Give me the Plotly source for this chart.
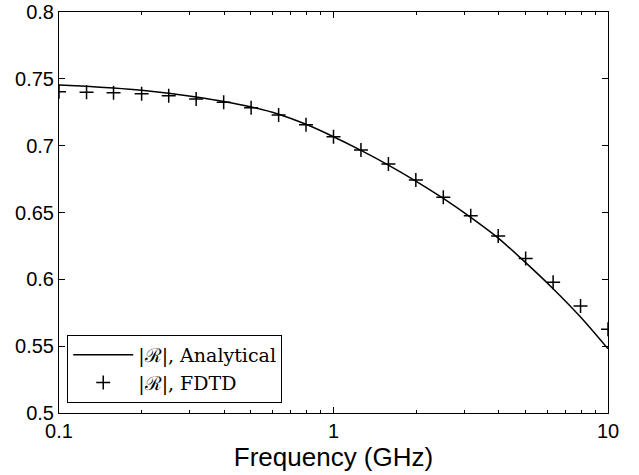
import plotly.graph_objects as go

# Frequencies (GHz)
freq = [0.1, 0.126, 0.158, 0.2, 0.251, 0.316, 0.398, 0.501, 0.631, 0.794,
        1.0, 1.259, 1.585, 1.995, 2.512, 3.162, 3.981, 5.012, 6.310, 7.943, 10.0]

# |R| analytical
analytical = [0.7454, 0.7444, 0.7431, 0.7414, 0.7392, 0.7364, 0.7331, 0.7290, 0.7235, 0.7160,
              0.7067, 0.6965, 0.6855, 0.6735, 0.6605, 0.6463, 0.6308, 0.6125, 0.5930, 0.5718, 0.5480]

# |R| FDTD
fdtd = [0.7404, 0.7399, 0.7396, 0.7389, 0.7374, 0.7349, 0.7324, 0.7284, 0.7230, 0.7157,
        0.7067, 0.6968, 0.6863, 0.6743, 0.6614, 0.6476, 0.6324, 0.6155, 0.5978, 0.5801, 0.5626]

y_ticks = [0.5, 0.55, 0.6, 0.65, 0.7, 0.75, 0.8]
y_ticktext = ["0.5", "0.55", "0.6", "0.65", "0.7", "0.75", "0.8"]

legend_analytical = "|ℛ|, Analytical"
legend_fdtd = "|ℛ|, FDTD"
x_title = "Frequency (GHz)"

fig = go.Figure()
fig.add_trace(go.Scatter(x=freq, y=analytical, mode="lines", name=legend_analytical,
                         line=dict(color="black", width=1.5, shape="spline", smoothing=0.8)))
fig.add_trace(go.Scatter(x=freq, y=fdtd, mode="markers", name=legend_fdtd,
                         marker=dict(symbol="cross-thin", size=10, color="black",
                                     line=dict(color="black", width=1.5))))

axis_common = dict(showline=True, linecolor="black", linewidth=1, mirror="ticks",
                   ticks="inside", ticklen=6, tickcolor="black", showgrid=False,
                   zeroline=False, automargin=False,
                   tickfont=dict(family="Liberation Sans, Arial", size=20, color="black"))

fig.update_xaxes(type="log", range=[-1, 1], dtick=1,
                 minor=dict(ticks="inside", ticklen=3, tickcolor="black", showgrid=False),
                 title=dict(text=x_title, font=dict(family="Liberation Sans, Arial", size=26, color="black"),
                            standoff=0),
                 **axis_common)
fig.update_yaxes(range=[0.5, 0.8], tickmode="array", tickvals=y_ticks, ticktext=y_ticktext,
                 **axis_common)

fig.update_layout(
    width=639, height=475,
    margin=dict(l=59, r=31, t=12, b=62),
    plot_bgcolor="white", paper_bgcolor="white",
    showlegend=True,
    legend=dict(x=0.015, y=0.025, xanchor="left", yanchor="bottom",
                bordercolor="black", borderwidth=1, bgcolor="white",
                font=dict(family="DejaVu Serif, serif", size=19, color="black"),
                tracegroupgap=0, itemwidth=60),
)

fig.write_html("out.html", config={"displayModeBar": False},
               post_script="document.body.style.margin='0';document.body.style.padding='0';")
